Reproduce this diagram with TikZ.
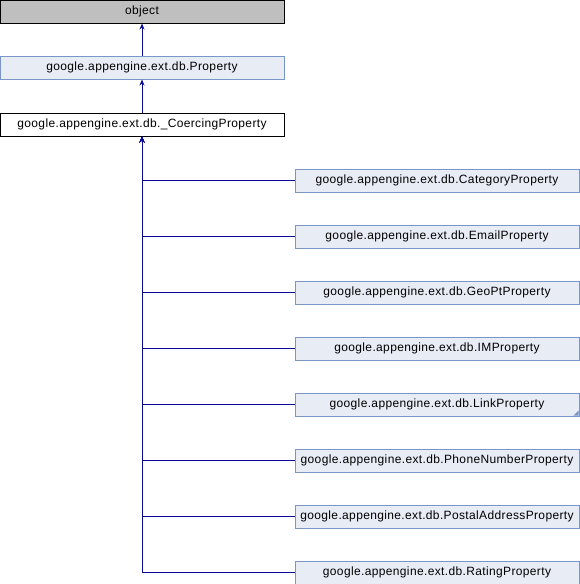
\documentclass[tikz,border=0pt]{standalone}
\usepackage{fontspec}
\setmainfont{Liberation Sans}[LetterSpace=3]
\usetikzlibrary{arrows.meta}
\definecolor{bfill}{HTML}{E8ECF5}
\definecolor{bdraw}{HTML}{7A96C8}
\definecolor{edgec}{HTML}{0A0A96}
\begin{document}
\begin{tikzpicture}[x=1pt,y=1pt,
  box/.style={draw=bdraw,fill=bfill,line width=1pt,minimum width=284pt,minimum height=23pt,inner sep=0pt,font=\fontsize{12}{14}\selectfont},
  edge/.style={draw=edgec,line width=1pt,-{Stealth[length=6pt,width=5pt]}}]
\useasboundingbox (0,0) rectangle (580,-584);
\node[box,draw=black,fill=black!25] (obj) at (142,-11.5) {object};
\node[box] (prop) at (142,-67.5) {google.appengine.ext.db.Property};
\node[box,draw=black,fill=white] (coer) at (142,-124.5) {google.appengine.ext.db.\_CoercingProperty};
\node[box] (c1) at (437,-180.5) {google.appengine.ext.db.CategoryProperty};
\node[box] (c2) at (437,-236.5) {google.appengine.ext.db.EmailProperty};
\node[box] (c3) at (437,-292.5) {google.appengine.ext.db.GeoPtProperty};
\node[box] (c4) at (437,-348.5) {google.appengine.ext.db.IMProperty};
\node[box] (c5) at (437,-404.5) {google.appengine.ext.db.LinkProperty};
\node[box] (c6) at (437,-460.5) {google.appengine.ext.db.PhoneNumberProperty};
\node[box] (c7) at (437,-516.5) {google.appengine.ext.db.PostalAddressProperty};
\node[box] (c8) at (437,-572.5) {google.appengine.ext.db.RatingProperty};
\fill[bdraw] ([shift={(-1pt,1pt)}]c5.south east) -- ++(-5pt,0) -- ++(5pt,5pt) -- cycle;
\draw[edge] (prop) -- (obj);
\draw[edge] (coer) -- (prop);
\foreach \c in {c1,c2,c3,c4,c5,c6,c7,c8}{
  \draw[edge] (\c.west) -| (coer.south);
}
\end{tikzpicture}
\end{document}
